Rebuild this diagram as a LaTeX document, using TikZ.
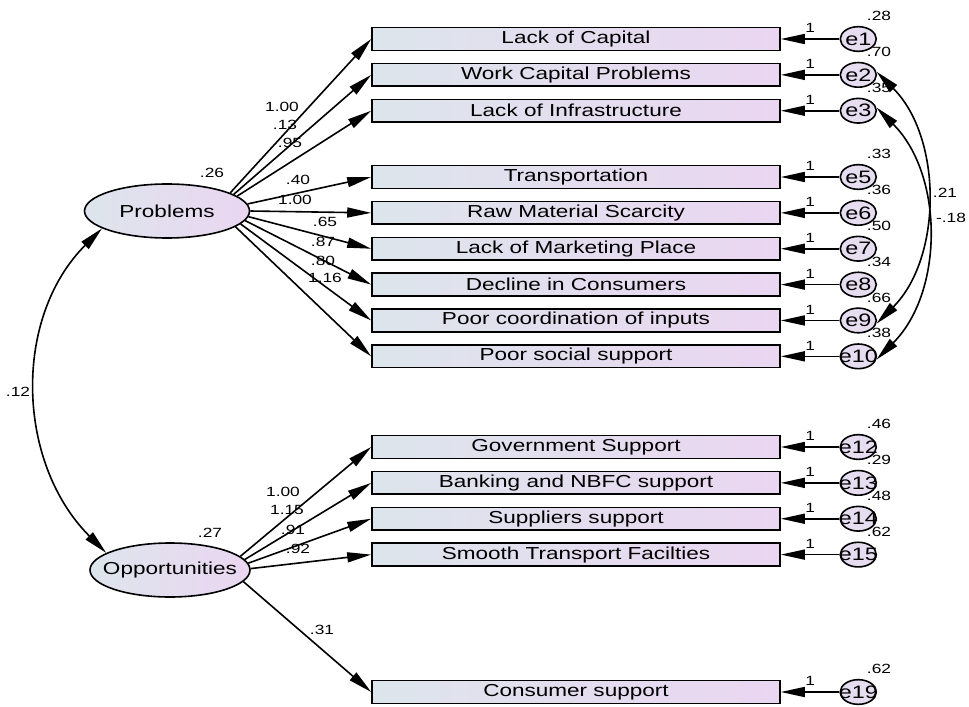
\documentclass[tikz,border=0pt]{standalone}
\usepackage{fontspec}
\setmainfont{Liberation Sans}[FakeStretch=1.3]
\usetikzlibrary{arrows.meta,positioning,shapes.geometric}

\definecolor{boxl}{RGB}{221,229,236}
\definecolor{boxr}{RGB}{234,214,241}
\definecolor{errfill}{RGB}{231,221,241}

\begin{document}
\begin{tikzpicture}[
    x=0.75pt, y=-0.75pt,
    node distance=8.7pt,
    every node/.style={font=\fontsize{13}{15}\selectfont},
    box/.style={draw,line width=1.2pt,left color=boxl,right color=boxr,minimum width=306pt,minimum height=17pt,inner sep=0pt},
    latent/.style={ellipse,draw,line width=1.2pt,left color=boxl,right color=boxr,minimum height=40.5pt,inner xsep=-9pt,inner ysep=0pt},
    err/.style={ellipse,draw,line width=1.2pt,fill=errfill,minimum width=27pt,minimum height=18.5pt,inner xsep=-6pt,inner ysep=0pt,font=\fontsize{13.5}{16}\selectfont},
    num/.style={font=\fontsize{10}{11}\selectfont,inner sep=1pt},
    var/.style={label={[num,anchor=center,label distance=12pt]48:#1}},
    arrow/.style={-{Triangle[length=18pt,width=7.5pt]},line width=1.2pt},
    cov/.style={{Triangle[length=18pt,width=7.5pt]}-{Triangle[length=18pt,width=7.5pt]},line width=1.2pt}
]
\useasboundingbox (0,0) rectangle (969,706);

\node[latent,minimum width=123.75pt] (prob) at (167,211) {Problems};
\node[latent,minimum width=120pt] (opp) at (170,570) {Opportunities};

\node[box] (b1) at (576,39) {Lack of Capital};
\node[box,below=of b1] (b2) {Work Capital Problems};
\node[box,below=of b2] (b3) {Lack of Infrastructure};
\node[box] (b5) at (576,177) {Transportation};
\node[box,below=of b5] (b6) {Raw Material Scarcity};
\node[box,below=of b6] (b7) {Lack of Marketing Place};
\node[box,below=of b7] (b8) {Decline in Consumers};
\node[box,below=of b8] (b9) {Poor coordination of inputs};
\node[box,below=of b9] (b10) {Poor social support};
\node[box] (b12) at (576,447) {Government Support};
\node[box,below=of b12] (b13) {Banking and NBFC support};
\node[box,below=of b13] (b14) {Suppliers support};
\node[box,below=of b14] (b15) {Smooth Transport Facilties};
\node[box] (b19) at (576,692) {Consumer support};

\node[err,right=44pt of b1,var=.28] (e1) {e1};
\node[err,right=44pt of b2,var=.70] (e2) {e2};
\node[err,right=44pt of b3,var=.35] (e3) {e3};
\node[err,right=44pt of b5,var=.33] (e5) {e5};
\node[err,right=44pt of b6,var=.36] (e6) {e6};
\node[err,right=44pt of b7,var=.50] (e7) {e7};
\node[err,right=44pt of b8,var=.34] (e8) {e8};
\node[err,right=44pt of b9,var=.66] (e9) {e9};
\node[err,right=44pt of b10,var=.38] (e10) {e10};
\node[err,right=44pt of b12,var=.46] (e12) {e12};
\node[err,right=44pt of b13,var=.29] (e13) {e13};
\node[err,right=44pt of b14,var=.48] (e14) {e14};
\node[err,right=44pt of b15,var=.62] (e15) {e15};
\node[err,right=44pt of b19,var=.62] (e19) {e19};

\draw[arrow] (e1) -- node[num,above=3pt] {1} (b1);
\draw[arrow] (e2) -- node[num,above=3pt] {1} (b2);
\draw[arrow] (e3) -- node[num,above=3pt] {1} (b3);
\draw[arrow] (e5) -- node[num,above=3pt] {1} (b5);
\draw[arrow] (e6) -- node[num,above=3pt] {1} (b6);
\draw[arrow] (e7) -- node[num,above=3pt] {1} (b7);
\draw[arrow] (e8) -- node[num,above=3pt] {1} (b8);
\draw[arrow] (e9) -- node[num,above=3pt] {1} (b9);
\draw[arrow] (e10) -- node[num,above=3pt] {1} (b10);
\draw[arrow] (e12) -- node[num,above=3pt] {1} (b12);
\draw[arrow] (e13) -- node[num,above=3pt] {1} (b13);
\draw[arrow] (e14) -- node[num,above=3pt] {1} (b14);
\draw[arrow] (e15) -- node[num,above=3pt] {1} (b15);
\draw[arrow] (e19) -- node[num,above=3pt] {1} (b19);

\draw[arrow] (prob.16) -- (b1.west);
\draw[arrow] (prob.14) -- (b2.west);
\draw[arrow] (prob.12) -- (b3.west);
\draw[arrow] (prob.5) -- (b5.west);
\draw[arrow] (prob.0) -- (b6.west);
\draw[arrow] (prob.-4) -- (b7.west);
\draw[arrow] (prob.-7) -- (b8.west);
\draw[arrow] (prob.-10) -- (b9.west);
\draw[arrow] (prob.-13) -- (b10.west);

\draw[arrow] (opp.11) -- (b12.west);
\draw[arrow] (opp.8) -- (b13.west);
\draw[arrow] (opp.5) -- (b14.west);
\draw[arrow] (opp.1) -- (b15.west);
\draw[arrow] (opp.-9) -- (b19.west);

\node[num] (w1) at (282,107) {1.00};
\node[num] (w2) at (285,125) {.13};
\node[num] (w3) at (290,143) {.95};
\node[num] (w5) at (298,180) {.40};
\node[num] (w6) at (295,200) {1.00};
\node[num] (w7) at (325,222) {.65};
\node[num] (w8) at (323,242) {.87};
\node[num] (w9) at (323,261) {.80};
\node[num] (w10) at (325,278) {1.16};
\node[num] (w12) at (283,492) {1.00};
\node[num] (w13) at (287,510) {1.15};
\node[num] (w14) at (293,530) {.91};
\node[num] (w15) at (298,549) {.92};
\node[num] (w19) at (322,630) {.31};
\node[num] (vp) at (212,173) {.26};
\node[num] (vo) at (210,533) {.27};

\draw[cov] (prob.195) to[out=-135,in=135] (opp.165);
\node[num] (c1) at (18,392) {.12};

\draw[cov] (e2.10) to[out=-45,in=45,looseness=0.95] (e9.-10);
\draw[cov] (e3.10) to[out=-45,in=45,looseness=0.97] (e10.-10);
\node[num] (c2) at (945,193) {.21};
\node[num] (c3) at (951,218) {-.18};
\end{tikzpicture}
\end{document}
